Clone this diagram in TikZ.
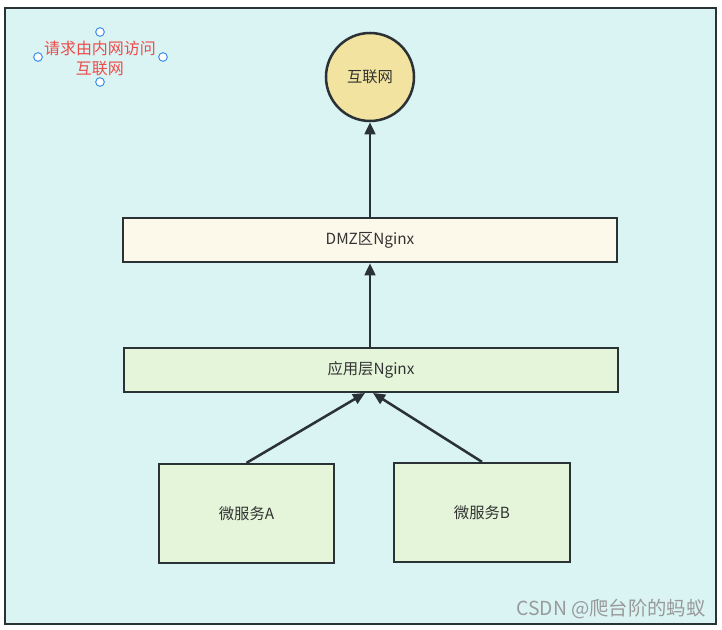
\documentclass[tikz,border=0pt]{standalone}
\usepackage{fontspec}
\setmainfont{Noto Sans CJK SC}
\usetikzlibrary{arrows.meta}
\definecolor{bgc}{HTML}{DAF4F4}
\definecolor{framec}{HTML}{2B3236}
\definecolor{circf}{HTML}{F2E3A0}
\definecolor{dmzf}{HTML}{FCF8EA}
\definecolor{grnf}{HTML}{E4F5DA}
\definecolor{redt}{HTML}{EE4B4B}
\definecolor{handc}{HTML}{2F86F0}
\definecolor{txt}{HTML}{333333}
\tikzset{
  box/.style={draw=framec, line width=1.9pt, inner sep=0pt, text=txt, font=\fontsize{11.5pt}{13pt}\selectfont},
  conn/.style={draw=framec, line width=1.9pt, -{Triangle[length=9pt,width=8pt]}},
  handle/.style={circle, draw=handc, fill=white, line width=0.7pt, minimum size=6.5pt, inner sep=0pt},
}
\begin{document}
\begin{tikzpicture}[x=0.75pt,y=-0.75pt]
\useasboundingbox (0,0) rectangle (722,630);
\fill[white] (0,0) rectangle (722,630);
\draw[draw=framec, fill=bgc, line width=2pt] (5,8) rectangle (716,624);
\node[box, circle, fill=circf, minimum size=66pt] (net) at (370,77) {互联网};
\node[box, fill=dmzf, minimum width=370.5pt, minimum height=33pt] (dmz) at (370,240) {DMZ区Nginx};
\node[box, fill=grnf, minimum width=370.5pt, minimum height=33pt] (app) at (371,370) {应用层Nginx};
\node[box, fill=grnf, minimum width=131pt, minimum height=74pt] (a) at (246.5,513.5) {微服务A};
\node[box, fill=grnf, minimum width=132pt, minimum height=74pt] (b) at (482,512.5) {微服务B};
\coordinate (pa) at (365,393);
\coordinate (pb) at (373,393);
\draw[conn] (dmz.north -| net) -- (net.south);
\draw[conn] (app.north -| net) -- (dmz.south -| net);
\draw[conn] (a.north) -- (pa);
\draw[conn] (b.north) -- (pb);
\node[text=redt, font=\fontsize{12pt}{15pt}\selectfont, align=center, inner sep=0pt] (note) at (100,58) {请求由内网访问\\互联网};
\node[handle] (h1) at (100,32) {};
\node[handle] (h2) at (38,57) {};
\node[handle] (h3) at (163,57) {};
\node[handle] (h4) at (100,82) {};
\node[text=gray!80, font=\fontsize{14.5pt}{16pt}\selectfont, inner sep=0pt] (wm) at (611,609) {CSDN @爬台阶的蚂蚁};
\end{tikzpicture}
\end{document}
